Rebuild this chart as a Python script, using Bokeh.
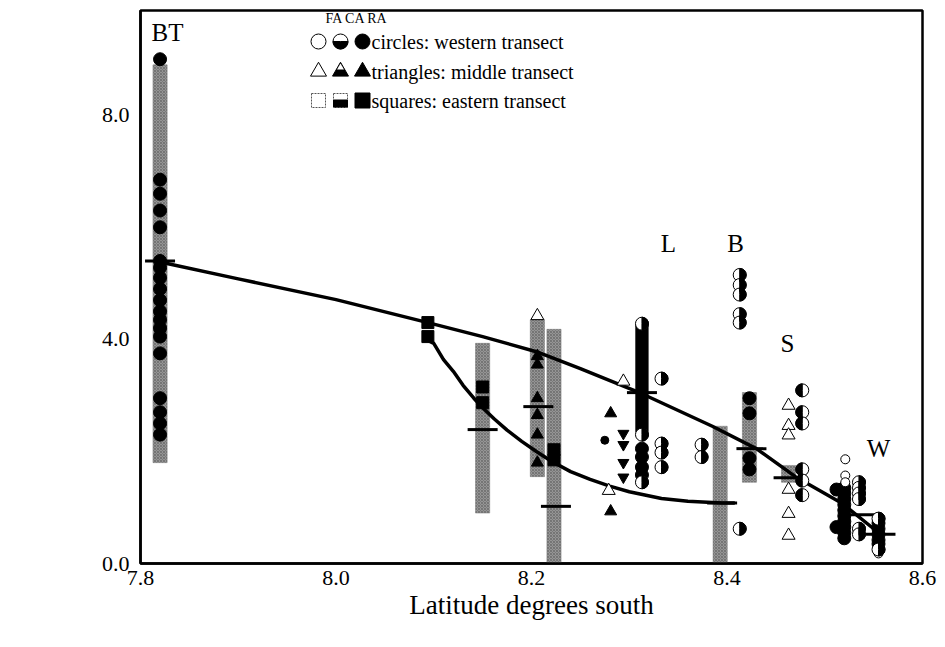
import math
from bokeh.plotting import figure
from bokeh.models import Label, FixedTicker, PrintfTickFormatter, Range1d
from bokeh.embed import file_html
from bokeh.resources import INLINE

# ---------------- data ----------------
# gray stippled ranges (x, low, high)
range_x = [7.82, 8.150, 8.206, 8.223, 8.393, 8.423, 8.463]
range_lo = [1.80, 0.90, 1.55, 0.00, 0.00, 1.45, 1.45]
range_hi = [8.90, 3.93, 4.35, 4.18, 2.45, 3.05, 1.75]

# dense black cluster of RA circles (L)
cluster_x = [8.313]
cluster_lo = [2.35]
cluster_hi = [4.25]

# trend curves
upper_x = [7.82, 7.90, 8.00, 8.094, 8.15, 8.205, 8.25, 8.313, 8.385, 8.43, 8.47, 8.518, 8.55]
upper_y = [5.38, 5.08, 4.71, 4.30, 4.05, 3.78, 3.48, 3.03, 2.45, 2.05, 1.55, 1.07, 0.62]
lower_x = [8.094, 8.100, 8.110, 8.120, 8.130, 8.141, 8.150, 8.162, 8.175, 8.190, 8.205,
           8.220, 8.240, 8.260, 8.280, 8.300, 8.333, 8.360, 8.395, 8.408]
lower_y = [3.98, 3.93, 3.64, 3.43, 3.18, 2.95, 2.78, 2.58, 2.38, 2.18, 2.00,
           1.83, 1.64, 1.50, 1.38, 1.28, 1.16, 1.11, 1.08, 1.08]

# mean markers (short horizontal bars)
mean_x = [7.82, 8.150, 8.207, 8.225, 8.313, 8.395, 8.425, 8.463, 8.540, 8.557]
mean_y = [5.40, 2.39, 2.80, 1.02, 3.05, 1.08, 2.05, 1.53, 0.87, 0.52]

# circles: western transect  (site x -> K2O values)
ra_circles = {
    7.820: [9.0, 6.85, 6.6, 6.3, 6.0, 5.4, 5.28, 5.1, 4.9, 4.7, 4.5, 4.35, 4.2, 4.05, 3.75, 2.95, 2.7, 2.5, 2.3],
    8.313: [2.05, 1.9, 1.72, 1.58],
    8.423: [2.95, 2.68, 1.88, 1.68],
    8.512: [1.32, 0.65],
    8.520: [1.35, 1.25, 1.15, 1.05, 0.95, 0.85, 0.75, 0.65, 0.55, 0.45],
    8.555: [0.72, 0.62, 0.52, 0.42, 0.35],
}
ra_small_circles = {8.275: [2.2]}
ca_circles_right = {
    8.313: [4.28, 2.3, 1.45],
    8.333: [3.3, 2.14, 1.98, 1.72],
    8.374: [2.12, 1.9],
    8.413: [5.15, 4.97, 4.8, 4.45, 4.3, 0.62],
    8.535: [1.45, 1.35, 1.25, 1.15, 0.62, 0.52],
    8.555: [0.8, 0.25],
}
ca_circles_left = {8.477: [3.09, 2.7, 2.5, 1.68, 1.48, 1.22]}
fa_circles = {8.521: [1.86, 1.57, 1.45], 8.555: [0.18]}

# triangles: middle transect
ra_triangles = {8.206: [3.7, 3.55, 2.95, 2.65, 2.3, 1.8], 8.281: [2.68, 0.93]}
fa_triangles = {8.206: [4.42], 8.279: [1.3], 8.294: [3.25],
                8.463: [2.82, 2.46, 2.29, 1.32, 0.89, 0.5]}
inv_triangles = {8.294: [2.32, 2.12, 1.8, 1.54]}

# squares: eastern transect
ra_squares = {8.094: [4.05, 4.3], 8.150: [3.15, 2.87], 8.223: [2.03, 1.85]}

x_ticks = [7.8, 8.0, 8.2, 8.4, 8.6]
y_ticks = [0.0, 4.0, 8.0]

legend_rows = ["circles: western transect", "triangles: middle transect", "squares: eastern transect"]
legend_head = "FA CA RA"
site_labels = ["BT", "L", "B", "S", "W"]

# ---------------- figure ----------------
X0, X1, Y0, Y1 = 7.8, 8.6, 0.0, 9.87
FL, FR, FT, FB = 140, 922, 10, 563  # frame pixel box


def dx(px):
    return X0 + (px - FL) * (X1 - X0) / (FR - FL)


def dy(py):
    return Y0 + (FB - py) * (Y1 - Y0) / (FB - FT)


def flat(d):
    xs, ys = [], []
    for k, v in d.items():
        xs += [k] * len(v)
        ys += list(v)
    return xs, ys


SERIF = "Liberation Serif"

p = figure(width=945, height=647, output_backend="svg", toolbar_location=None,
           x_range=Range1d(X0, X1), y_range=Range1d(Y0, Y1),
           min_border_left=FL, min_border_right=945 - FR,
           min_border_top=FT, min_border_bottom=647 - FB)
p.xgrid.visible = False
p.ygrid.visible = False
p.outline_line_color = "black"
p.outline_line_width = 2.5
p.outline_line_alpha = 1.0
p.background_fill_color = "white"
p.border_fill_color = "white"

for ax in (p.xaxis[0], p.yaxis[0]):
    ax.axis_line_width = 2.5
    ax.axis_line_color = "black"
    ax.major_label_text_font = SERIF
    ax.major_label_text_font_size = "22px"
    ax.major_label_text_color = "black"
    ax.minor_tick_line_color = None
    ax.major_tick_in = 0
    ax.major_tick_out = 0
    ax.formatter = PrintfTickFormatter(format="%.1f")
p.xaxis.ticker = FixedTicker(ticks=x_ticks)
p.yaxis.ticker = FixedTicker(ticks=y_ticks)
p.xaxis.major_label_standoff = 7
p.yaxis.major_label_standoff = 11
p.xaxis.axis_label = "Latitude degrees south"
p.xaxis.axis_label_text_font = SERIF
p.xaxis.axis_label_text_font_size = "27px"
p.xaxis.axis_label_text_font_style = "normal"
p.xaxis.axis_label_text_color = "black"
p.xaxis.axis_label_standoff = 2

# gray ranges
p.vbar(x=range_x, bottom=range_lo, top=range_hi, width=0.0145,
       fill_color="#959595", line_color="#7a7a7a", line_width=0.5,
       hatch_pattern="diagonal_cross", hatch_color="#5a5a5a", hatch_scale=3,
       hatch_weight=0.6, hatch_alpha=0.9)

# dense black cluster
p.vbar(x=cluster_x, bottom=cluster_lo, top=cluster_hi, width=0.0125,
       fill_color="black", line_color="black")

# curves
p.line(upper_x, upper_y, line_color="black", line_width=3.5, line_join="round")
p.line(lower_x, lower_y, line_color="black", line_width=3.5, line_join="round")

# mean bars
p.scatter(mean_x, mean_y, marker="dash", size=30, line_color="black", line_width=3)

# squares
sx, sy = flat(ra_squares)
p.scatter(sx, sy, marker="square", size=12, fill_color="black", line_color="black")

# triangles
tx, ty = flat(ra_triangles)
p.scatter(tx, ty, marker="triangle", size=12, fill_color="black", line_color="black")
tx, ty = flat(fa_triangles)
p.scatter(tx, ty, marker="triangle", size=13, fill_color="white", line_color="black", line_width=1)
tx, ty = flat(inv_triangles)
p.scatter(tx, ty, marker="inverted_triangle", size=11, fill_color="black", line_color="black")

# circles
cx, cy = flat(ra_circles)
p.scatter(cx, cy, marker="circle", size=13, fill_color="black", line_color="black")
cx, cy = flat(ra_small_circles)
p.scatter(cx, cy, marker="circle", size=8, fill_color="black", line_color="black")
cx, cy = flat(fa_circles)
p.scatter(cx, cy, marker="circle", size=9, fill_color="white", line_color="black", line_width=1)
for d, a0, a1 in ((ca_circles_right, -math.pi / 2, math.pi / 2),
                  (ca_circles_left, math.pi / 2, 3 * math.pi / 2)):
    cx, cy = flat(d)
    p.scatter(cx, cy, marker="circle", size=13, fill_color="white", line_color="black", line_width=1)
    p.wedge(cx, cy, radius=6.5, radius_units="screen", start_angle=a0, end_angle=a1,
            fill_color="black", line_color="black")

# ---------------- legend ----------------
col_px = [318, 340, 362]
row_py = [41, 71, 100]
lx = [dx(c) for c in col_px]
ly = [dy(r) for r in row_py]
# circles row
p.scatter([lx[0]], [ly[0]], marker="circle", size=15, fill_color="white", line_color="black", line_width=1)
p.scatter([lx[1]], [ly[0]], marker="circle", size=15, fill_color="white", line_color="black", line_width=1)
p.wedge([lx[1]], [ly[0]], radius=7.5, radius_units="screen", start_angle=math.pi,
        end_angle=2 * math.pi, fill_color="black", line_color="black")
p.scatter([lx[2]], [ly[0]], marker="circle", size=15, fill_color="black", line_color="black")
# triangles row
p.scatter([lx[0]], [ly[1]], marker="triangle", size=16, fill_color="white", line_color="black", line_width=1)
p.scatter([lx[1]], [ly[1]], marker="triangle", size=16, fill_color="black", line_color="black")
p.scatter([lx[1]], [ly[1] + dy(0) - dy(4)], marker="triangle", size=7, fill_color="white", line_color=None)
p.scatter([lx[2]], [ly[1]], marker="triangle", size=16, fill_color="black", line_color="black")
# squares row
p.scatter([lx[0]], [ly[2]], marker="square", size=14, fill_color="white", line_color="#555555", line_width=1,
          line_dash="2 1")
p.scatter([lx[1]], [ly[2]], marker="square", size=14, fill_color="white", line_color="#555555", line_width=1,
          line_dash="2 1")
p.rect([lx[1]], [ly[2] - (dy(0) - dy(3))], width=14, height=7, width_units="screen",
       height_units="screen", fill_color="black", line_color="black")
p.scatter([lx[2]], [ly[2]], marker="square", size=15, fill_color="black", line_color="black")

p.add_layout(Label(x=dx(325), y=dy(18), text=legend_head, text_font=SERIF, text_font_size="14px",
                   text_baseline="middle", text_align="left", text_color="black"))
for txt, r in zip(legend_rows, row_py):
    p.add_layout(Label(x=dx(371), y=dy(r), text=txt, text_font=SERIF, text_font_size="20px",
                       text_baseline="middle", text_align="left", text_color="black"))

# site labels
site_pos = [(167, 32), (668, 243), (735, 243), (787, 343), (878, 448)]
for t, (px, py) in zip(site_labels, site_pos):
    p.add_layout(Label(x=dx(px), y=dy(py), text=t, text_font=SERIF, text_font_size="25px",
                       text_baseline="middle", text_align="center", text_color="black"))

# y axis title
p.add_layout(Label(x=dx(8), y=dy(298), text="K\u2082O", text_font=SERIF, text_font_size="25px",
                   text_baseline="middle", text_align="left", text_color="black"))
p.add_layout(Label(x=dx(10), y=dy(330), text="wt%", text_font=SERIF, text_font_size="25px",
                   text_baseline="middle", text_align="left", text_color="black"))

open("out.html", "w").write(file_html(p, INLINE))
